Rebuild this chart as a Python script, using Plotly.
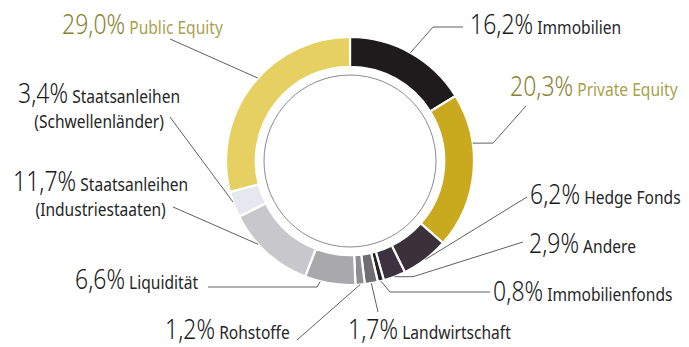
import math
import plotly.graph_objects as go

# ---------------- data ----------------
categories = ["Immobilien", "Private Equity", "Hedge Fonds", "Andere", "Immobilienfonds",
              "Landwirtschaft", "Rohstoffe", "Liquidität",
              "Staatsanleihen<br>(Industriestaaten)", "Staatsanleihen<br>(Schwellenländer)",
              "Public Equity"]
values = [16.2, 20.3, 6.2, 2.9, 0.8, 1.7, 1.2, 6.6, 11.7, 3.4, 29.0]
colors = ["#1d1b1b", "#c9a91e", "#3a313a", "#3d3340", "#262324", "#6e6d70", "#8e8d90",
          "#a9a9ab", "#c8c8cc", "#e7e7ef", "#e7d062"]

# ---------------- layout helpers (pixel space) ----------------
W, H = 689, 347
CX, CY, R = 350, 161, 124          # donut centre / outer radius in px
HOLE = 0.76
INNER_CIRCLE_R = 86
SCALE_X = 0.82                     # condensed look for label text

attach = [0.5, 0.32, 0.5, 0.5, 0.5, 0.5, 0.5, 0.69, 0.63, 0.6, 0.54]
leaders = [
    [(433, 27), (463, 27)],
    [(493, None), (526, 106)],
    [(527, 197)],
    [(413, None), (523, 242)],
    [(390, 292), (490, 292)],
    [(378, 312)],
    [(297, 340)],
    [(317, 287), (208, 287)],
    [(173, 207)],
    [(170, 117)],
    [(170, 39)],
]
label_pos = [
    (468, 23, "middle"),
    (508, 85, "middle"),
    (528, 193, "middle"),
    (527, 242, "middle"),
    (491, 290, "middle"),
    (346, 328, "middle"),
    (163, 328, "middle"),
    (73, 278, "middle"),
    (11, 159, "top"),
    (16, 71, "top"),
    (60, 23, "middle"),
]
gold = {"Private Equity", "Public Equity"}


def px(x):
    return x / W


def py(y):
    return 1 - y / H


fig = go.Figure()
fig.add_trace(go.Pie(
    labels=categories, values=values, sort=False, direction="clockwise", rotation=0,
    hole=HOLE, textinfo="none", hoverinfo="label+value",
    marker=dict(colors=colors, line=dict(color="white", width=2.2)),
    domain=dict(x=[px(CX - R), px(CX + R)], y=[py(CY + R), py(CY - R)]),
    showlegend=False,
))

shapes = []
annotations = []
total = sum(values)
cum = 0.0
for i, (cat, v) in enumerate(zip(categories, values)):
    a0 = cum / total * 360
    a1 = (cum + v) / total * 360
    cum += v
    ang = math.radians(a0 + (a1 - a0) * attach[i])
    rx = CX + R * math.sin(ang)
    ry = CY - R * math.cos(ang)
    pts = [(rx, ry)]
    for (lx, ly) in leaders[i]:
        pts.append((lx, ry if ly is None else ly))
    path = "M " + " L ".join(f"{px(x):.5f},{py(y):.5f}" for x, y in pts)
    shapes.append(dict(type="path", path=path, xref="paper", yref="paper",
                       line=dict(color="#606060", width=1)))

    pct = f"{v:.1f}".replace(".", ",") + "%"
    if cat in gold:
        pc, nc = "#8a8233", "#ab9f4c"
    else:
        pc, nc = "#1a1a1a", "#262626"
    name_html = cat.replace("<br>", f"</span><br><span style='color:{nc}'>")
    text = (f"<span style='font-size:28px;font-weight:300;color:{pc}'>{pct}</span>"
            f"<span style='color:{nc}'> {name_html}</span>")
    x0, y0, ya = label_pos[i]
    annotations.append(dict(
        text=text, x=px(x0), y=py(y0), xref="paper", yref="paper",
        xanchor="left", yanchor=ya, showarrow=False, align="center",
        font=dict(family="Noto Sans", size=19, color=nc),
    ))

shapes.append(dict(type="circle", xref="paper", yref="paper",
                   x0=px(CX - INNER_CIRCLE_R), x1=px(CX + INNER_CIRCLE_R),
                   y0=py(CY + INNER_CIRCLE_R), y1=py(CY - INNER_CIRCLE_R),
                   line=dict(color="#8a8a8a", width=1)))

fig.update_layout(
    width=W, height=H, margin=dict(l=0, r=0, t=0, b=0),
    paper_bgcolor="white", plot_bgcolor="white",
    shapes=shapes, annotations=annotations,
)

post = """
function condense(){
  document.querySelectorAll('text.annotation-text').forEach(function(t){
    t.style.transformBox = 'fill-box';
    t.style.transformOrigin = '0% 50%';
    t.style.transform = 'scaleX(%SX%)';
  });
}
var gd = document.getElementById('{plot_id}');
if (gd && gd.on) { gd.on('plotly_afterplot', condense); }
condense(); setTimeout(condense, 0); setTimeout(condense, 200);
""".replace("%SX%", str(SCALE_X))
fig.write_html("out.html", post_script=post)
